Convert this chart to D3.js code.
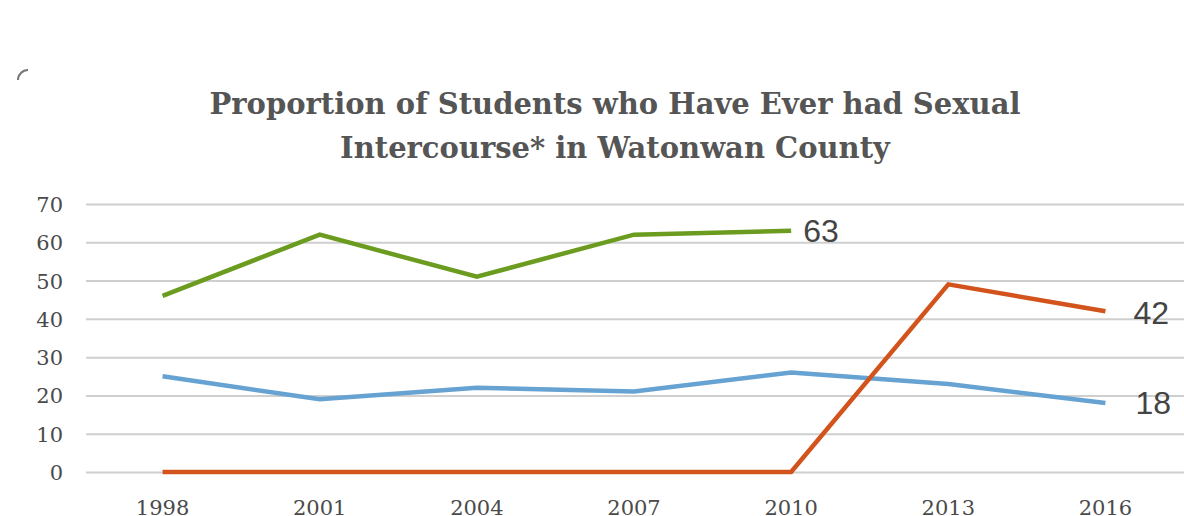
<!DOCTYPE html>
<html>
<head>
<meta charset="utf-8">
<script src="https://cdn.jsdelivr.net/npm/d3@7"></script>
<style>
  body { margin: 0; background: #fff; }
  .grid line { stroke: #cfcfcf; stroke-width: 2; }
  .grid path { display: none; }
  .tick-lbl { font-family: "DejaVu Serif", serif; fill: #4a4a4a; font-size: 21px; }
</style>
</head>
<body>
<script>
const years = ['1998', '2001', '2004', '2007', '2010', '2013', '2016']
const yTicks = [0, 10, 20, 30, 40, 50, 60, 70]
const green = [46, 62, 51, 62, 63]
const blue = [25, 19, 22, 21, 26, 23, 18]
const orange = [0, 0, 0, 0, 0, 49, 42]
const titleLines = ['Proportion of Students who Have Ever had Sexual', 'Intercourse* in Watonwan County']

const frame = { width: 1184, height: 516 }

const svg = d3.select('body').append('svg')
  .attr('width', frame.width)
  .attr('height', frame.height)

const x = d3.scaleBand().domain(years).range([84, 1184])
const y = d3.scaleLinear().domain([0, 70]).range([472, 204])
const cx = d => x(d) + x.bandwidth() / 2

// gridlines
svg.append('g')
  .attr('class', 'grid')
  .attr('transform', 'translate(86,0)')
  .call(d3.axisLeft(y).tickValues(yTicks).tickSize(-(1184 - 86)).tickFormat(''))

// y labels
svg.selectAll('.ylbl').data(yTicks).enter().append('text')
  .attr('class', 'tick-lbl')
  .attr('x', 63)
  .attr('y', d => y(d) + 8)
  .attr('text-anchor', 'end')
  .text(d => d)

// x labels (cut by the bottom edge like the original)
svg.selectAll('.xlbl').data(years).enter().append('text')
  .attr('class', 'tick-lbl')
  .attr('x', d => cx(d))
  .attr('y', 515)
  .attr('text-anchor', 'middle')
  .text(d => d)

const line = d3.line()
  .x((d, i) => cx(years[i]))
  .y(d => y(d))

const series = [
  { vals: blue, color: '#66a3d2' },
  { vals: green, color: '#6b9c1f' },
  { vals: orange, color: '#d2541c' }
]

series.forEach(s => {
  svg.append('path')
    .datum(s.vals)
    .attr('fill', 'none')
    .attr('stroke', s.color)
    .attr('stroke-width', 4.5)
    .attr('stroke-linejoin', 'miter')
    .attr('d', line)
})

// end labels
const endLabels = [
  { v: green[green.length - 1], i: green.length - 1, dx: 12, dy: 0 },
  { v: orange[orange.length - 1], i: orange.length - 1, dx: 28, dy: 2 },
  { v: blue[blue.length - 1], i: blue.length - 1, dx: 30, dy: 0 }
]
svg.selectAll('.endlbl').data(endLabels).enter().append('text')
  .attr('x', d => cx(years[d.i]) + d.dx)
  .attr('y', d => y(d.v) + 11 + d.dy)
  .attr('font-family', '"Liberation Sans", Arial, sans-serif')
  .attr('font-size', 32)
  .attr('fill', '#444')
  .text(d => d.v)

// title
svg.selectAll('.title').data(titleLines).enter().append('text')
  .attr('x', 615)
  .attr('y', (d, i) => 114 + i * 44)
  .attr('text-anchor', 'middle')
  .attr('font-family', '"DejaVu Serif", serif')
  .attr('font-weight', 'bold')
  .attr('font-size', 29)
  .attr('fill', '#555')
  .text(d => d)

// small corner arc top left
svg.append('path')
  .attr('d', 'M18,80 A10,10 0 0 1 28,70')
  .attr('fill', 'none')
  .attr('stroke', '#777')
  .attr('stroke-width', 2)
</script>
</body>
</html>
